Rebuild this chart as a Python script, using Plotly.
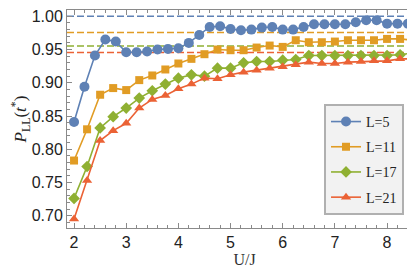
import plotly.graph_objects as go

# ---- data ----
U_L5 = [2.0, 2.2, 2.4, 2.6, 2.8, 3.0, 3.2, 3.4, 3.6, 3.8, 4.0, 4.2, 4.4, 4.6, 4.8,
        5.0, 5.2, 5.4, 5.6, 5.8, 6.0, 6.2, 6.4, 6.6, 6.8, 7.0, 7.2, 7.4, 7.6, 7.8,
        8.0, 8.2, 8.4]
P_L5 = [0.841, 0.894, 0.941, 0.965, 0.962, 0.946, 0.946, 0.947, 0.950, 0.951, 0.952,
        0.960, 0.972, 0.984, 0.985, 0.981, 0.979, 0.980, 0.983, 0.984, 0.980, 0.980,
        0.984, 0.988, 0.988, 0.988, 0.988, 0.991, 0.994, 0.994, 0.989, 0.989, 0.989]

U_L = [2.0, 2.25, 2.5, 2.75, 3.0, 3.25, 3.5, 3.75, 4.0, 4.25, 4.5, 4.75, 5.0, 5.25,
       5.5, 5.75, 6.0, 6.25, 6.5, 6.75, 7.0, 7.25, 7.5, 7.75, 8.0, 8.25, 8.5]
P_L11 = [0.783, 0.830, 0.882, 0.892, 0.889, 0.904, 0.911, 0.920, 0.929, 0.936, 0.943,
         0.950, 0.949, 0.949, 0.953, 0.956, 0.954, 0.964, 0.961, 0.961, 0.962, 0.964,
         0.964, 0.964, 0.966, 0.966, 0.964]
P_L17 = [0.726, 0.774, 0.832, 0.849, 0.862, 0.877, 0.888, 0.898, 0.907, 0.912, 0.910,
         0.922, 0.922, 0.930, 0.932, 0.932, 0.934, 0.935, 0.941, 0.941, 0.941, 0.941,
         0.941, 0.941, 0.941, 0.942, 0.945]
P_L21 = [0.695, 0.753, 0.813, 0.828, 0.839, 0.862, 0.875, 0.881, 0.891, 0.898, 0.907,
         0.906, 0.912, 0.916, 0.919, 0.922, 0.924, 0.927, 0.931, 0.929, 0.929, 0.931,
         0.932, 0.933, 0.933, 0.936, 0.936]

asymptotes = [1.000, 0.9755, 0.9555, 0.9455]
labels = ["L=5", "L=11", "L=17", "L=21"]
colors = ["#5E81B5", "#E19C24", "#8FB032", "#EB6235"]
symbols = ["circle", "square", "diamond", "triangle-up"]
sizes = [10, 8, 9, 9]

x_range = [1.865, 8.67]
y_range = [0.6815, 1.0095]

series = [(U_L5, P_L5), (U_L, P_L11), (U_L, P_L17), (U_L, P_L21)]

fig = go.Figure()

for a, c in zip(asymptotes, colors):
    fig.add_trace(go.Scatter(x=x_range, y=[a, a], mode="lines",
                             line=dict(color=c, width=1.5, dash="7px,3px"),
                             showlegend=False, hoverinfo="skip"))

for i, ((xs, ys), lab, c, s, sz) in enumerate(zip(series, labels, colors, symbols, sizes)):
    fig.add_trace(go.Scatter(x=xs, y=ys, mode="lines+markers", name=lab,
                             legendgroup=lab,
                             line=dict(color=c, width=1.6),
                             marker=dict(symbol=s, size=sz, color=c)))

axis_common = dict(showline=True, linecolor="#8a8a8a", linewidth=1, mirror="allticks",
                   ticks="inside", tickcolor="#8a8a8a", ticklen=5, showgrid=False,
                   zeroline=False, automargin=False, ticklabeloverflow="allow",
                   tickfont=dict(family="Liberation Sans", size=16, color="#222"))

fig.update_xaxes(range=x_range, dtick=1, tick0=0,
                 minor=dict(dtick=0.2, ticklen=3, ticks="inside", tickcolor="#8a8a8a", showgrid=False),
                 title=dict(text="U/J", font=dict(family="Liberation Serif", size=16, color="#333"),
                            standoff=3),
                 **axis_common)
fig.update_yaxes(range=y_range, dtick=0.05, tick0=0.7, tickformat=".2f",
                 minor=dict(dtick=0.01, ticklen=3, ticks="inside", tickcolor="#8a8a8a", showgrid=False),
                 title=dict(text="<i>P</i><sub>LL</sub>(<i>t</i><sup>*</sup>)",
                            font=dict(family="Liberation Serif", size=17, color="#222"),
                            standoff=6),
                 **axis_common)

fig.update_layout(
    width=415, height=267,
    margin=dict(l=59, r=1, t=2, b=47),
    paper_bgcolor="white", plot_bgcolor="white",
    legend=dict(x=0.724, y=0.569, xanchor="left", yanchor="top",
                bgcolor="#f2f2f2", bordercolor="#b0b0b0", borderwidth=2,
                font=dict(family="Liberation Serif", size=14, color="#222"),
                traceorder="grouped", tracegroupgap=4),
)

fig.write_html("out.html")
